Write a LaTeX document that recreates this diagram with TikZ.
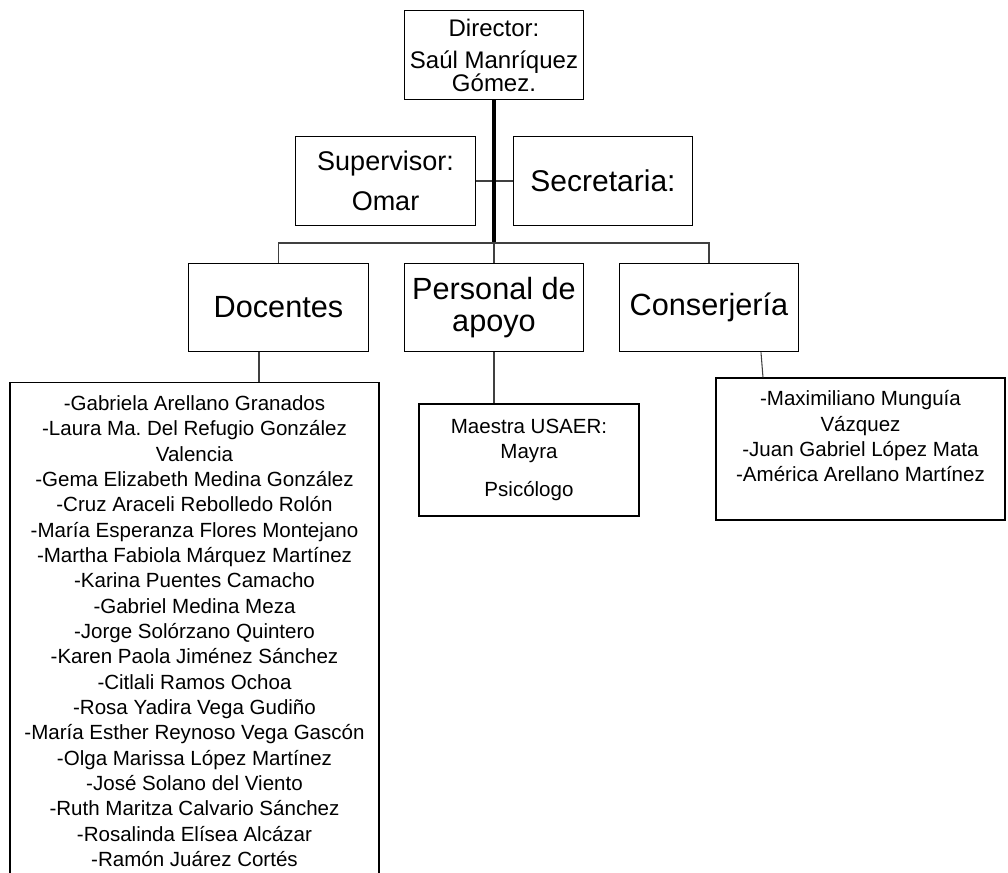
\documentclass[tikz,border=0pt]{standalone}
\usepackage{fontspec}
\setmainfont{Liberation Sans}
\usetikzlibrary{calc}
\frenchspacing

\tikzset{
	box/.style={draw, line width=0.9pt, inner sep=0pt, align=center},
	link/.style={draw=black!75, line width=0.8pt},
	trunk/.style={line width=2.4pt},
	small/.style={font=\fontsize{15.4pt}{19pt}\selectfont},
	big/.style={font=\fontsize{23pt}{24pt}\selectfont},
	mid/.style={minimum width=134.5pt, minimum height=66.5pt},
}

\begin{document}
\begin{tikzpicture}[x=0.75pt,y=-0.75pt]
	\useasboundingbox (0,0) rectangle (1008,873);
	\clip (0,0) rectangle (1008,873);
	\node[box,mid,font=\fontsize{18pt}{17.25pt}\selectfont] (dir) at (494,55) {Director:\\[6.75pt]Saúl Manríquez\\Gómez.};
	\node[box,mid,font=\fontsize{20.25pt}{30pt}\selectfont] (sup) at (385.5,181) {Supervisor:\\Omar};
	\node[box,mid,font=\fontsize{22.5pt}{24pt}\selectfont] (sec) at (603,181) {Secretaria:};
	\node[box,mid,big] (doc) at (278.5,307.5) {Docentes};
	\node[box,mid,big] (pers) at (494,307.5) {Personal de\\apoyo};
	\node[box,mid,big] (cons) at (709,307.5) {Conserjería};
	% lists under each area
	\node[box,small,minimum width=276.75pt,anchor=north,inner ysep=9.75pt] (doclist) at (194.5,382) {-Gabriela Arellano Granados\\-Laura Ma.\ Del Refugio González\\Valencia\\-Gema Elizabeth Medina González\\-Cruz Araceli Rebolledo Rolón\\-María Esperanza Flores Montejano\\-Martha Fabiola Márquez Martínez\\-Karina Puentes Camacho\\-Gabriel Medina Meza\\-Jorge Solórzano Quintero\\-Karen Paola Jiménez Sánchez\\-Citlali Ramos Ochoa\\-Rosa Yadira Vega Gudiño\\-María Esther Reynoso Vega Gascón\\-Olga Marissa López Martínez\\-José Solano del Viento\\-Ruth Maritza Calvario Sánchez\\-Rosalinda Elísea Alcázar\\-Ramón Juárez Cortés\\ \mbox{}\\ \mbox{}};
	\node[box,small,minimum width=165pt,minimum height=84pt] (maes) at (529,460) {Maestra USAER:\\Mayra\\[9.75pt]Psicólogo};
	\node[box,small,minimum width=216.75pt,minimum height=106.5pt] (conslist) at (860.5,449) {-Maximiliano Munguía\\Vázquez\\-Juan Gabriel López Mata\\-América Arellano Martínez\\ \mbox{}};

	\coordinate (hub) at (494,243);
	\coordinate (doctap) at ($(doc.south)+(-19.5,0)$);
	\coordinate (constap) at ($(cons.south)+(52,0)$);
	\draw[link] (sup.east) -- (sec.west);
	\draw[trunk] (dir.south) -- (hub);
	\draw[link] (doc.north) -- (doc.north |- hub) -- (cons.north |- hub) -- (cons.north);
	\draw[link] (hub) -- (pers.north);
	\draw[link] (doctap) -- (doctap |- doclist.north);
	\draw[link] (pers.south) -- (pers.south |- maes.north);
	\draw[link] (constap) -- ($(conslist.north)+(-97.5,0)$);
\end{tikzpicture}
\end{document}
